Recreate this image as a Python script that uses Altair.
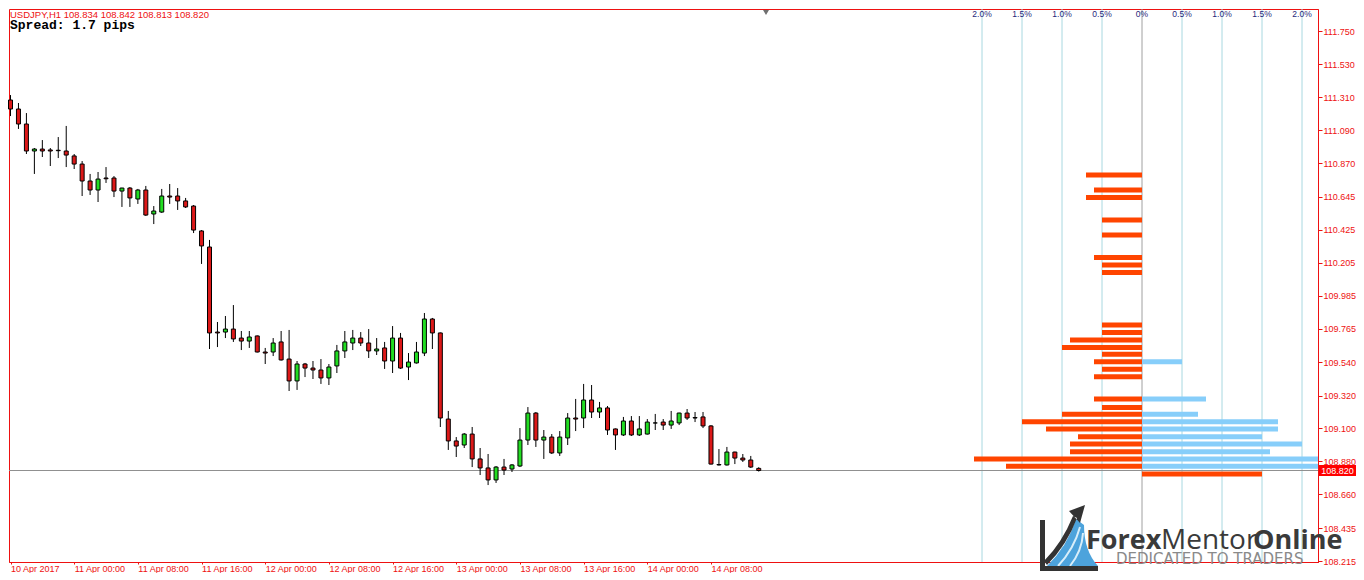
import json
import altair as alt
import pandas as pd

# ---------------- candle data: USDJPY H1, 10 Apr 16:00 -> 14 Apr 14:00 ----------------
opens = [111.290, 111.230, 111.130, 110.950, 110.963, 110.957, 110.955, 110.950, 110.917, 110.863,
         110.750, 110.690, 110.770, 110.770, 110.683, 110.703, 110.630, 110.690, 110.530, 110.543,
         110.650, 110.650, 110.617, 110.583, 110.417, 110.310, 109.743, 109.743, 109.763, 109.703,
         109.683, 109.717, 109.610, 109.610, 109.677, 109.563, 109.417, 109.530, 109.503, 109.490,
         109.437, 109.517, 109.617, 109.670, 109.703, 109.670, 109.617, 109.637, 109.550, 109.703,
         109.510, 109.537, 109.603, 109.830, 109.737, 109.163, 109.017, 108.990, 109.063, 108.897,
         108.837, 108.757, 108.843, 108.830, 108.850, 109.023, 109.203, 109.023, 109.043, 108.937,
         109.037, 109.170, 109.170, 109.290, 109.210, 109.237, 109.097, 109.057, 109.150, 109.057,
         109.063, 109.137, 109.143, 109.123, 109.137, 109.203, 109.173, 109.177, 109.117, 108.860,
         108.857, 108.943, 108.903, 108.890, 108.834]
highs = [111.323, 111.270, 111.203, 110.970, 111.023, 110.970, 111.043, 111.117, 110.930, 110.883,
         110.797, 110.810, 110.843, 110.783, 110.705, 110.710, 110.697, 110.717, 110.583, 110.697,
         110.730, 110.703, 110.637, 110.590, 110.423, 110.357, 109.810, 109.850, 109.923, 109.750,
         109.750, 109.720, 109.637, 109.703, 109.750, 109.757, 109.550, 109.537, 109.550, 109.563,
         109.530, 109.657, 109.750, 109.757, 109.743, 109.763, 109.703, 109.677, 109.783, 109.737,
         109.603, 109.677, 109.870, 109.837, 109.740, 109.217, 109.043, 109.070, 109.110, 108.970,
         108.930, 108.850, 108.897, 108.863, 109.103, 109.243, 109.210, 109.090, 109.063, 109.083,
         109.203, 109.297, 109.397, 109.390, 109.277, 109.250, 109.100, 109.177, 109.183, 109.183,
         109.163, 109.197, 109.163, 109.217, 109.205, 109.230, 109.210, 109.210, 109.123, 108.963,
         108.977, 108.945, 108.930, 108.917, 108.842]
lows = [111.183, 111.097, 110.930, 110.797, 110.910, 110.850, 110.903, 110.843, 110.830, 110.650,
        110.657, 110.610, 110.737, 110.643, 110.577, 110.577, 110.597, 110.517, 110.463, 110.537,
        110.597, 110.557, 110.570, 110.403, 110.197, 109.630, 109.643, 109.703, 109.677, 109.623,
        109.637, 109.607, 109.530, 109.583, 109.553, 109.350, 109.357, 109.443, 109.430, 109.397,
        109.390, 109.470, 109.570, 109.623, 109.650, 109.570, 109.590, 109.497, 109.470, 109.497,
        109.423, 109.533, 109.583, 109.630, 109.110, 108.957, 108.910, 108.970, 108.843, 108.790,
        108.723, 108.737, 108.790, 108.810, 108.843, 108.990, 108.977, 108.897, 108.930, 108.917,
        108.990, 109.083, 109.103, 109.170, 109.170, 109.057, 108.957, 109.050, 109.050, 109.050,
        109.060, 109.090, 109.090, 109.097, 109.123, 109.157, 109.143, 109.103, 108.860, 108.853,
        108.853, 108.863, 108.877, 108.837, 108.813]
closes = [111.230, 111.130, 110.950, 110.963, 110.950, 110.950, 110.952, 110.923, 110.863, 110.750,
          110.690, 110.763, 110.765, 110.683, 110.703, 110.637, 110.690, 110.523, 110.550, 110.650,
          110.643, 110.617, 110.577, 110.423, 110.317, 109.737, 109.737, 109.763, 109.697, 109.683,
          109.710, 109.610, 109.603, 109.670, 109.557, 109.417, 109.530, 109.503, 109.490, 109.437,
          109.510, 109.617, 109.677, 109.703, 109.670, 109.617, 109.630, 109.550, 109.703, 109.503,
          109.543, 109.610, 109.830, 109.737, 109.170, 109.017, 108.983, 109.063, 108.897, 108.837,
          108.757, 108.843, 108.823, 108.857, 109.023, 109.203, 109.023, 109.043, 108.937, 109.043,
          109.170, 109.163, 109.290, 109.210, 109.237, 109.090, 109.057, 109.150, 109.057, 109.097,
          109.143, 109.137, 109.123, 109.150, 109.203, 109.170, 109.170, 109.117, 108.863, 108.857,
          108.943, 108.903, 108.890, 108.843, 108.820]

time_labels = ["10 Apr 2017", "11 Apr 00:00", "11 Apr 08:00", "11 Apr 16:00", "12 Apr 00:00",
               "12 Apr 08:00", "12 Apr 16:00", "13 Apr 00:00", "13 Apr 08:00", "13 Apr 16:00",
               "14 Apr 00:00", "14 Apr 08:00"]
time_tick_index = [0, 8, 16, 24, 32, 40, 48, 56, 64, 72, 80, 88]
price_ticks = [111.750, 111.530, 111.310, 111.090, 110.870, 110.645, 110.425, 110.205, 109.985,
               109.765, 109.540, 109.320, 109.100, 108.880, 108.660, 108.435, 108.215]

# ---------------- order book histogram ----------------
sell_levels = [110.790, 110.690, 110.640, 110.490, 110.390, 110.240, 110.190, 110.140, 109.790,
               109.740, 109.690, 109.640, 109.595, 109.545, 109.495, 109.445, 109.297, 109.240,
               109.195, 109.145, 109.097, 109.045, 108.997, 108.945, 108.897, 108.848, 108.797]
sell_pct = [-0.70, -0.60, -0.70, -0.50, -0.50, -0.60, -0.50, -0.50, -0.50,
            -0.50, -0.90, -1.00, -0.50, -0.60, -0.50, -0.60, -0.60, -0.50,
            -1.00, -1.50, -1.20, -0.80, -0.90, -0.90, -2.10, -1.70, 1.50]
buy_levels = [109.545, 109.297, 109.195, 109.145, 109.097, 109.045, 108.997, 108.945, 108.897, 108.848]
buy_pct = [0.50, 0.80, 0.70, 1.70, 1.70, 1.50, 2.00, 1.60, 2.30, 2.30]
pct_grid = [-2.0, -1.5, -1.0, -0.5, 0.0, 0.5, 1.0, 1.5, 2.0]
pct_grid_labels = ["2.0%", "1.5%", "1.0%", "0.5%", "0%", "0.5%", "1.0%", "1.5%", "2.0%"]

header_text = "USDJPY,H1  108.834 108.842 108.813 108.820"
spread_text = "Spread: 1.7 pips"
logo_words = ["Forex", "Mentor", "Online"]
logo_tagline = "DEDICATED TO TRADERS"

# ---------------- styles ----------------
W, H = 1309, 553
RED = "#ee1111"
CANDLE_RED = "#dc1818"
CANDLE_GREEN = "#22dd22"
ORANGE = "#ff4500"
SKY = "#87cefa"
GRID = "#a8d8e0"
FONT = "Liberation Sans"

last_close = closes[-1]

cdf = pd.DataFrame({"i": list(range(len(opens))), "o": opens, "h": highs, "l": lows, "c": closes})
sdf = pd.DataFrame({"lvl": sell_levels, "v": sell_pct, "z": [0.0] * len(sell_levels)})
bdf = pd.DataFrame({"lvl": buy_levels, "v": buy_pct, "z": [0.0] * len(buy_levels)})
gdf = pd.DataFrame({"p": pct_grid, "lab": pct_grid_labels})
one = pd.DataFrame({"k": [0]})

spacing = 7.96
x0 = -1.5 / spacing
xc_scale = alt.Scale(domain=[x0, x0 + W / spacing], nice=False, zero=False, padding=0)
xh_scale = alt.Scale(domain=[-1133 / 80, (W - 1133) / 80], nice=False, zero=False, padding=0)
y_scale = alt.Scale(domain=[108.21, 111.75 + 22 / 150], nice=False, zero=False, padding=0)

y_axis = alt.Axis(orient="right", values=price_ticks, format=".3f", title=None, grid=False,
                  labelColor=RED, tickColor=RED, domainColor=RED, tickSize=4, labelPadding=1,
                  labelFont=FONT, labelFontSize=9, labelFlush=False, labelOverlap=False)

label_expr = json.dumps(time_labels) + "[round(datum.value / 8)]"
x_axis = alt.Axis(values=time_tick_index, labelExpr=label_expr, labelAlign="left", labelPadding=0,
                  tickSize=2, labelColor=RED, tickColor=RED, domainColor=RED, labelFont=FONT,
                  labelFontSize=9, labelFlush=False, labelOverlap=False, title=None, grid=False)


def Y(field):
    return alt.Y(field, type="quantitative", scale=y_scale, axis=y_axis)


# grid lines of the order book panel
grid = alt.Chart(gdf).mark_rule(strokeWidth=1).encode(
    x=alt.X("p:Q", scale=xh_scale, axis=None),
    color=alt.condition("datum.p == 0", alt.value("#a0a0a0"), alt.value(GRID)),
)
grid_text = alt.Chart(gdf).mark_text(font=FONT, fontSize=8.5, color="#1f1f7a", baseline="middle").encode(
    x=alt.X("p:Q", scale=xh_scale, axis=None),
    y=alt.value(4.6),
    text="lab:N",
)

price_line = alt.Chart(one).mark_rule(color="#909090", strokeWidth=1).encode(
    y=alt.datum(last_close, scale=y_scale, axis=y_axis))

wicks = alt.Chart(cdf).mark_rule(color="black", strokeWidth=1).encode(
    x=alt.X("i:Q", scale=xc_scale, axis=None),
    y=Y("l"),
    y2="h",
)
bodies = alt.Chart(cdf).mark_bar(size=4, stroke="black", strokeWidth=1).encode(
    x=alt.X("i:Q", scale=xc_scale, axis=x_axis),
    y=Y("o"),
    y2="c",
    fill=alt.condition("datum.c > datum.o", alt.value(CANDLE_GREEN), alt.value(CANDLE_RED)),
)

sell_bars = alt.Chart(sdf).mark_bar(orient="horizontal", size=5, color=ORANGE, clip=True).encode(
    x=alt.X("v:Q", scale=xh_scale, axis=None), x2="z", y=Y("lvl"))
buy_bars = alt.Chart(bdf).mark_bar(orient="horizontal", size=5, color=SKY, clip=True).encode(
    x=alt.X("v:Q", scale=xh_scale, axis=None), x2="z", y=Y("lvl"))

half = 5.5 / 150
tag = alt.Chart(one).mark_rect(color="#ff0000").encode(
    x=alt.value(W + 1), x2=alt.value(W + 38),
    y=alt.datum(last_close + half, scale=y_scale, axis=y_axis), y2=alt.datum(last_close - half))
tag_text = alt.Chart(one).mark_text(font=FONT, fontSize=9, color="white", baseline="middle").encode(
    x=alt.value(W + 19.5), y=alt.datum(last_close, scale=y_scale, axis=y_axis),
    text=alt.value(f"{last_close:.3f}"))

header = alt.Chart(one).mark_text(font=FONT, fontSize=9.5, color=RED, align="left", baseline="alphabetic").encode(
    x=alt.value(1), y=alt.value(9), text=alt.value(header_text))
spread = alt.Chart(one).mark_text(font="Liberation Mono", fontWeight="bold", fontSize=13, color="black",
                                  align="left", baseline="alphabetic").encode(
    x=alt.value(1), y=alt.value(20), text=alt.value(spread_text))
shift_marker = alt.Chart(one).mark_point(shape="triangle-down", filled=True, size=36, color="#707070",
                                         opacity=1).encode(x=alt.value(757), y=alt.value(3.5))

# watermark logo
LX, LY = 1031, 562
logo_L = alt.Chart(one).mark_point(shape="M0,-51L5,-51L5,0L0,0Z M0,-5L58,-5L58,0L0,0Z", size=4, filled=True,
                                   color="#333333", opacity=1, strokeWidth=0).encode(x=alt.value(LX), y=alt.value(LY))
logo_blue = alt.Chart(one).mark_point(shape="M7,-5Q27,-24 36,-52L44,-46Q44,-20 58,-5Z", size=4, filled=True,
                                      color="#4da3dc", opacity=1, strokeWidth=0).encode(x=alt.value(LX), y=alt.value(LY))
logo_stripes = alt.Chart(one).mark_point(shape="M18,-5Q34,-22 40,-44M30,-5Q42,-20 43,-38", size=4, filled=False,
                                         color="#d8eefa", opacity=1, strokeWidth=2).encode(x=alt.value(LX), y=alt.value(LY))
logo_arrow = alt.Chart(one).mark_point(shape="M4,-10Q22,-28 33,-55L37,-53Q27,-26 7,-6Z M45,-66L29,-60L40,-48Z",
                                       size=4, filled=True, color="#333333", opacity=1,
                                       strokeWidth=0).encode(x=alt.value(LX), y=alt.value(LY))
wm1 = alt.Chart(one).mark_text(font="Open Sans", fontWeight="bold", fontSize=27, color="#3a3a3a", align="left",
                               baseline="alphabetic").encode(x=alt.value(1077), y=alt.value(540),
                                                              text=alt.value(logo_words[0]))
wm2 = alt.Chart(one).mark_text(font="Open Sans", fontWeight="normal", fontSize=28, color="#3a3a3a", align="left",
                               baseline="alphabetic").encode(x=alt.value(1152), y=alt.value(540),
                                                              text=alt.value(logo_words[1]))
wm3 = alt.Chart(one).mark_text(font="Open Sans", fontWeight="bold", fontSize=27, color="#3a3a3a", align="left",
                               baseline="alphabetic").encode(x=alt.value(1244), y=alt.value(540),
                                                              text=alt.value(logo_words[2]))
wm4 = alt.Chart(one).mark_text(font="DejaVu Sans", fontSize=15, color="#8a8a8a", align="left",
                               baseline="alphabetic").encode(x=alt.value(1107), y=alt.value(555),
                                                              text=alt.value(logo_tagline))

chart = alt.layer(
    grid, grid_text, price_line, wicks, bodies, sell_bars, buy_bars, tag, tag_text,
    header, spread, shift_marker, logo_blue, logo_stripes, logo_L, logo_arrow, wm1, wm2, wm3, wm4,
).resolve_scale(x="independent").properties(
    width=W, height=H, padding=0, background="white"
).configure_view(stroke=RED, strokeWidth=1)

chart.save("out.html", embed_options={"renderer": "svg", "actions": False})
